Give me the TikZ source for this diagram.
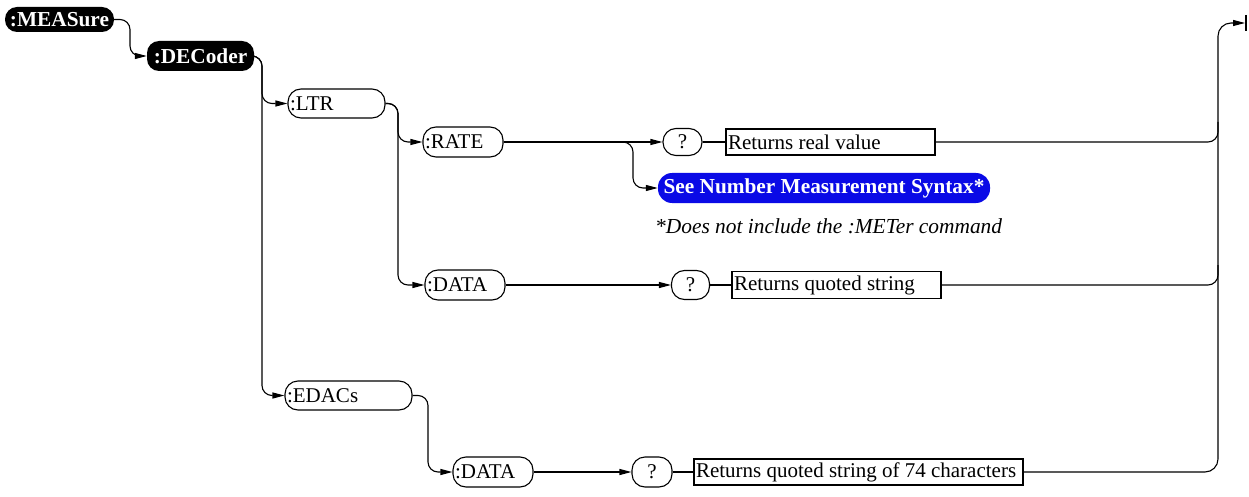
\documentclass[tikz,border=0pt]{standalone}
\usepackage{fontspec}
\setmainfont{Liberation Serif}
\usetikzlibrary{arrows.meta}
\definecolor{pillblue}{RGB}{10,10,230}
\newcommand{\lbox}[2]{\makebox[#1][l]{#2}}
\tikzset{
  base/.style={inner xsep=2pt, inner ysep=0pt, font=\fontsize{21}{24}\selectfont},
  pill/.style={base, draw, line width=1.1pt, rounded corners=13pt},
  bpill/.style={base, fill=black, text=white, rounded corners=12pt, font=\fontsize{21.3}{24}\selectfont\bfseries},
  qpill/.style={base, draw, line width=1.1pt, rounded corners=13pt},
  retbox/.style={base, draw, line width=1.1pt, rectangle},
  bluepill/.style={base, fill=pillblue, text=white, rounded corners=14pt, font=\fontsize{21.3}{24}\selectfont\bfseries},
  conn/.style={line width=1.1pt, rounded corners=10pt, -{Triangle[length=12pt,width=6pt]}},
  plain/.style={line width=1.1pt, rounded corners=10pt},
}
\begin{document}
\begin{tikzpicture}[x=1pt,y=-1pt]
\path[use as bounding box] (0,0) rectangle (1249,497);
% nodes
\node[bpill, minimum width=109pt, minimum height=25pt] (M) at (59.5,19.5) {:MEASure};
\node[bpill, minimum width=107pt, minimum height=30pt] (D) at (200.5,56) {:DECoder};
\node[pill, minimum height=29pt] (L) at (336.5,103.5) {\lbox{93pt}{:LTR}};
\node[pill, minimum height=30pt] (R) at (463,142) {\lbox{76pt}{:RATE}};
\node[qpill, minimum width=39pt, minimum height=27pt] (Q1) at (682.5,142) {?};
\node[retbox, minimum height=26pt] (B1) at (830.5,142) {\lbox{205pt}{Returns real value}};
\node[bluepill, minimum width=332pt, minimum height=30pt] (S) at (824,188) {See Number Measurement Syntax*};
\node[base, anchor=west, inner xsep=0pt, font=\fontsize{21.4}{24}\selectfont\itshape] (note) at (655,226) {*Does not include the :METer command};
\node[pill, minimum height=30pt] (A1) at (465,285) {\lbox{76pt}{:DATA}};
\node[qpill, minimum width=38pt, minimum height=29pt] (Q2) at (690.5,285) {?};
\node[retbox, minimum height=27pt] (B2) at (836.5,285) {\lbox{205pt}{Returns quoted string}};
\node[pill, minimum height=29pt] (E) at (348.5,395.5) {\lbox{123pt}{:EDACs}};
\node[pill, minimum height=30pt] (A2) at (493,472) {\lbox{76pt}{:DATA}};
\node[qpill, minimum width=40pt, minimum height=30pt] (Q3) at (652,472) {?};
\node[retbox, minimum height=26pt] (B3) at (858.5,472) {\lbox{325pt}{Returns quoted string of 74 characters}};
% helper coordinates
\coordinate (v0) at (130,0);
\coordinate (v1) at (262,0);
\coordinate (v2) at (398,0);
\coordinate (v3) at (633,0);
\coordinate (v4) at (428,0);
\coordinate (vR) at (1218,0);
\coordinate (fin) at (1245,23);
% connectors
\draw[conn] (M.east) -| (v0 |- D.west) -- (D.west);
\draw[conn] (D.east) -| (v1 |- L.west) -- (L.west);
\draw[conn] (D.east) -| (v1 |- E.west) -- (E.west);
\draw[conn] (L.east) -| (v2 |- R.west) -- (R.west);
\draw[conn] (L.east) -| (v2 |- A1.west) -- (A1.west);
\draw[conn] (R.east) -- (Q1.west);
\draw[conn] (R.east) -| (v3 |- S.west) -- (S.west);
\draw[plain] (Q1.east) -- (B1.west);
\draw[plain] (B1.east) -| ([yshift=20pt]vR |- B1.east);
\draw[conn] (A1.east) -- (Q2.west);
\draw[plain] (Q2.east) -- (B2.west);
\draw[plain] (B2.east) -| ([yshift=20pt]vR |- B2.east);
\draw[conn] (E.east) -| (v4 |- A2.west) -- (A2.west);
\draw[conn] (A2.east) -- (Q3.west);
\draw[plain] (Q3.east) -- (B3.west);
\draw[conn, rounded corners=13pt] (B3.east) -| (vR |- fin) -- (fin);
\draw[line width=1.1pt] ([yshift=8pt,xshift=1pt]fin) -- ([yshift=-8pt,xshift=1pt]fin);
\end{tikzpicture}
\end{document}
